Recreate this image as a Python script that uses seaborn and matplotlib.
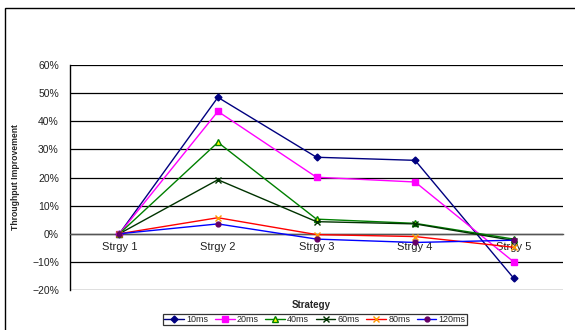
import matplotlib
matplotlib.use("Agg")
import matplotlib.pyplot as plt
import seaborn as sns
import pandas as pd
from matplotlib.patches import Rectangle
from matplotlib.ticker import PercentFormatter, FixedLocator

categories = ["Strgy 1", "Strgy 2", "Strgy 3", "Strgy 4", "Strgy 5"]
series_names = ["10ms", "20ms", "40ms", "60ms", "80ms", "120ms"]
v10 = [0.0, 48.5, 27.2, 26.1, -15.8]
v20 = [0.0, 43.5, 20.1, 18.4, -10.0]
v40 = [0.0, 32.5, 5.2, 3.7, -1.9]
v60 = [0.0, 19.2, 4.3, 3.5, -2.4]
v80 = [0.0, 5.7, -0.3, -1.0, -4.8]
v120 = [0.0, 3.5, -1.9, -3.1, -2.3]
values = [v10, v20, v40, v60, v80, v120]
yticks = [-20, -10, 0, 10, 20, 30, 40, 50, 60]

styles = {
    "10ms": dict(color="#000080", marker="D", mfc="#000080", mec="#000080", ms=3.5),
    "20ms": dict(color="#FF00FF", marker="s", mfc="#FF00FF", mec="#FF00FF", ms=4),
    "40ms": dict(color="#008000", marker="^", mfc="#FFFF00", mec="#008000", ms=4.5),
    "60ms": dict(color="#003300", marker="x", mfc="#003300", mec="#003300", ms=4),
    "80ms": dict(color="#FF0000", marker="x", mfc="#FF9900", mec="#FF9900", ms=4),
    "120ms": dict(color="#0000FF", marker="o", mfc="#660066", mec="#660066", ms=3.5),
}

rows = []
for name, vals in zip(series_names, values):
    for c, v in zip(categories, vals):
        rows.append({"Strategy": c, "Series": name, "Value": v})
df = pd.DataFrame(rows)

sns.set_style("white")
plt.rcParams["font.family"] = ["Liberation Sans", "DejaVu Sans"]

W, H = 575, 330
fig = plt.figure(figsize=(W / 100, H / 100), dpi=100)
left, right, top, bottom = 70, 563, 65, 290
ax = fig.add_axes([left / W, 1 - bottom / H, (right - left) / W, (bottom - top) / H])

for name in series_names:
    sub = df[df["Series"] == name]
    st = styles[name]
    sns.lineplot(data=sub, x="Strategy", y="Value", ax=ax, color=st["color"], lw=1.0,
                 marker=st["marker"], markerfacecolor=st["mfc"], markeredgecolor=st["mec"],
                 markersize=st["ms"], markeredgewidth=1.0, label=name, sort=False,
                 legend=False, zorder=3)

ax.set_xlim(-0.5, 4.5)
ax.set_ylim(-20, 60)
ax.set_yticks(yticks)
ax.yaxis.set_major_formatter(PercentFormatter(decimals=0))
ax.set_xticks(range(len(categories)))
ax.set_xticklabels(categories)
ax.xaxis.set_minor_locator(FixedLocator([i - 0.5 for i in range(len(categories) + 1)]))
ax.tick_params(axis="x", which="major", length=0, labelsize=8, pad=6, colors="#222222")
ax.tick_params(axis="x", which="minor", length=3, direction="out", color="#555555")
ax.tick_params(axis="y", which="major", length=3, direction="out", labelsize=7.5, color="black",
               labelcolor="#222222", pad=5)
ax.grid(axis="y", color="black", lw=0.9)
ax.grid(axis="x", visible=False)
for s in ["top", "right"]:
    ax.spines[s].set_visible(False)
ax.spines["bottom"].set_position(("data", 0))
ax.spines["bottom"].set_color("#555555")
ax.spines["bottom"].set_linewidth(1.0)
ax.spines["left"].set_color("black")
ax.spines["left"].set_linewidth(1.0)
ax.set_xlabel("")
ax.set_ylabel("Throughput Improvement", fontsize=6.2, fontweight="bold")
ax.yaxis.set_label_coords(-(left - 20) / (right - left), 0.5)

fig.text(311 / W, 1 - 305 / H, "Strategy", fontsize=7, fontweight="bold", ha="center", va="center")

handles, labels = ax.get_legend_handles_labels()
leg = fig.legend(handles, labels, loc="center", bbox_to_anchor=(315 / W, 1 - 319.5 / H), ncol=6,
                 fontsize=6.5, frameon=True, fancybox=False, edgecolor="black", handlelength=2.2,
                 handletextpad=0.25, columnspacing=0.7, borderpad=0.15, borderaxespad=0)
leg.get_frame().set_linewidth(0.9)

fig.patches.append(Rectangle((5 / W, -0.1), 1, 1 - 8 / H + 0.1, fill=False, edgecolor="black",
                             lw=1.0, transform=fig.transFigure))

fig.savefig("out.png", dpi=100)
